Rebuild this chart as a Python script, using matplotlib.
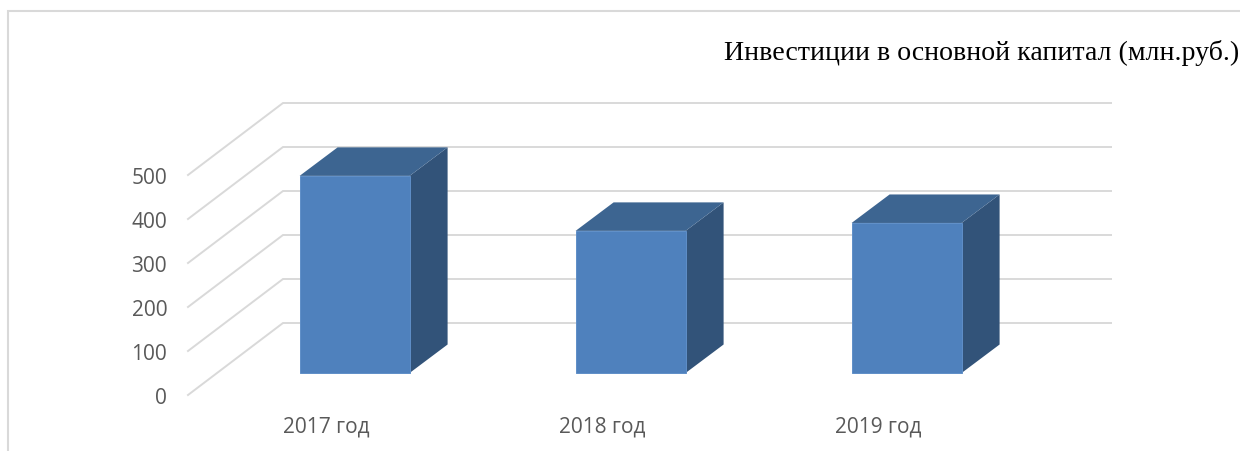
import matplotlib
matplotlib.use("Agg")
import matplotlib.pyplot as plt
from matplotlib.lines import Line2D
from matplotlib.patches import Polygon

categories = ["2017 год", "2018 год", "2019 год"]
values = [448, 323, 341]
y_ticks = [0, 100, 200, 300, 400, 500]
title = "Инвестиции в основной капитал (млн.руб.)"

W, H = 1240, 452
fig = plt.figure(figsize=(W / 100, H / 100), dpi=100, facecolor="white")
# plot box in pixels (front plane of the 3D chart)
L, R, T, B = 188, 1016, 176, 396
ax = fig.add_axes([L / W, 1 - B / H, (R - L) / W, (B - T) / H])
ax.set_xlim(-0.5, 2.5)
ax.set_ylim(0, 500)
ax.patch.set_alpha(0)
for s in ax.spines.values():
    s.set_visible(False)

px_x = 3 / (R - L)     # category units per pixel
px_y = 500 / (B - T)   # value units per pixel

GRID = "#d9d9d9"
gdx, gdy = 95 * px_x, 72 * px_y      # wall depth
odx, ody = 28.6 * px_x, 22 * px_y    # bar front plane offset
bdx, bdy = 38 * px_x, 28.5 * px_y    # bar depth
bw = 110 * px_x

for v in y_ticks:
    ax.plot([-0.5, -0.5 + gdx, 2.5 + gdx], [v, v + gdy, v + gdy],
            color=GRID, lw=1.4, clip_on=False, zorder=1, solid_joinstyle="miter")

for i, v in enumerate(values):
    x0 = i - bw / 2 + odx
    x1 = i + bw / 2 + odx
    y0 = ody
    y1 = v + ody
    ax.add_patch(Polygon([(x1, y0), (x1 + bdx, y0 + bdy), (x1 + bdx, y1 + bdy), (x1, y1)],
                         closed=True, fc="#325379", ec="none", clip_on=False, zorder=3))
    ax.add_patch(Polygon([(x0, y1), (x1, y1), (x1 + bdx, y1 + bdy), (x0 + bdx, y1 + bdy)],
                         closed=True, fc="#3d6591", ec="none", clip_on=False, zorder=3))
    ax.add_patch(Polygon([(x0, y0), (x1, y0), (x1, y1), (x0, y1)],
                         closed=True, fc="#4f81bd", ec="#5f8fc8", lw=0.7, clip_on=False, zorder=4))

ax.set_xticks(range(len(categories)), categories)
ax.set_yticks(y_ticks)
ax.tick_params(axis="both", length=0, labelsize=15, labelcolor="#595959")
ax.tick_params(axis="x", pad=15)
ax.tick_params(axis="y", pad=15)
for t in ax.get_xticklabels() + ax.get_yticklabels():
    t.set_family("Open Sans")

fig.text(1239 / W, 1 - 53.5 / H, title, family="Liberation Serif", fontsize=20.05,
         color="black", ha="right", va="center")

fig.add_artist(Line2D([8 / W, 8 / W, 1], [0, 1 - 12 / H, 1 - 12 / H],
                      color=GRID, lw=1.5, solid_joinstyle="miter"))

fig.savefig("out.png", dpi=100, facecolor="white")
